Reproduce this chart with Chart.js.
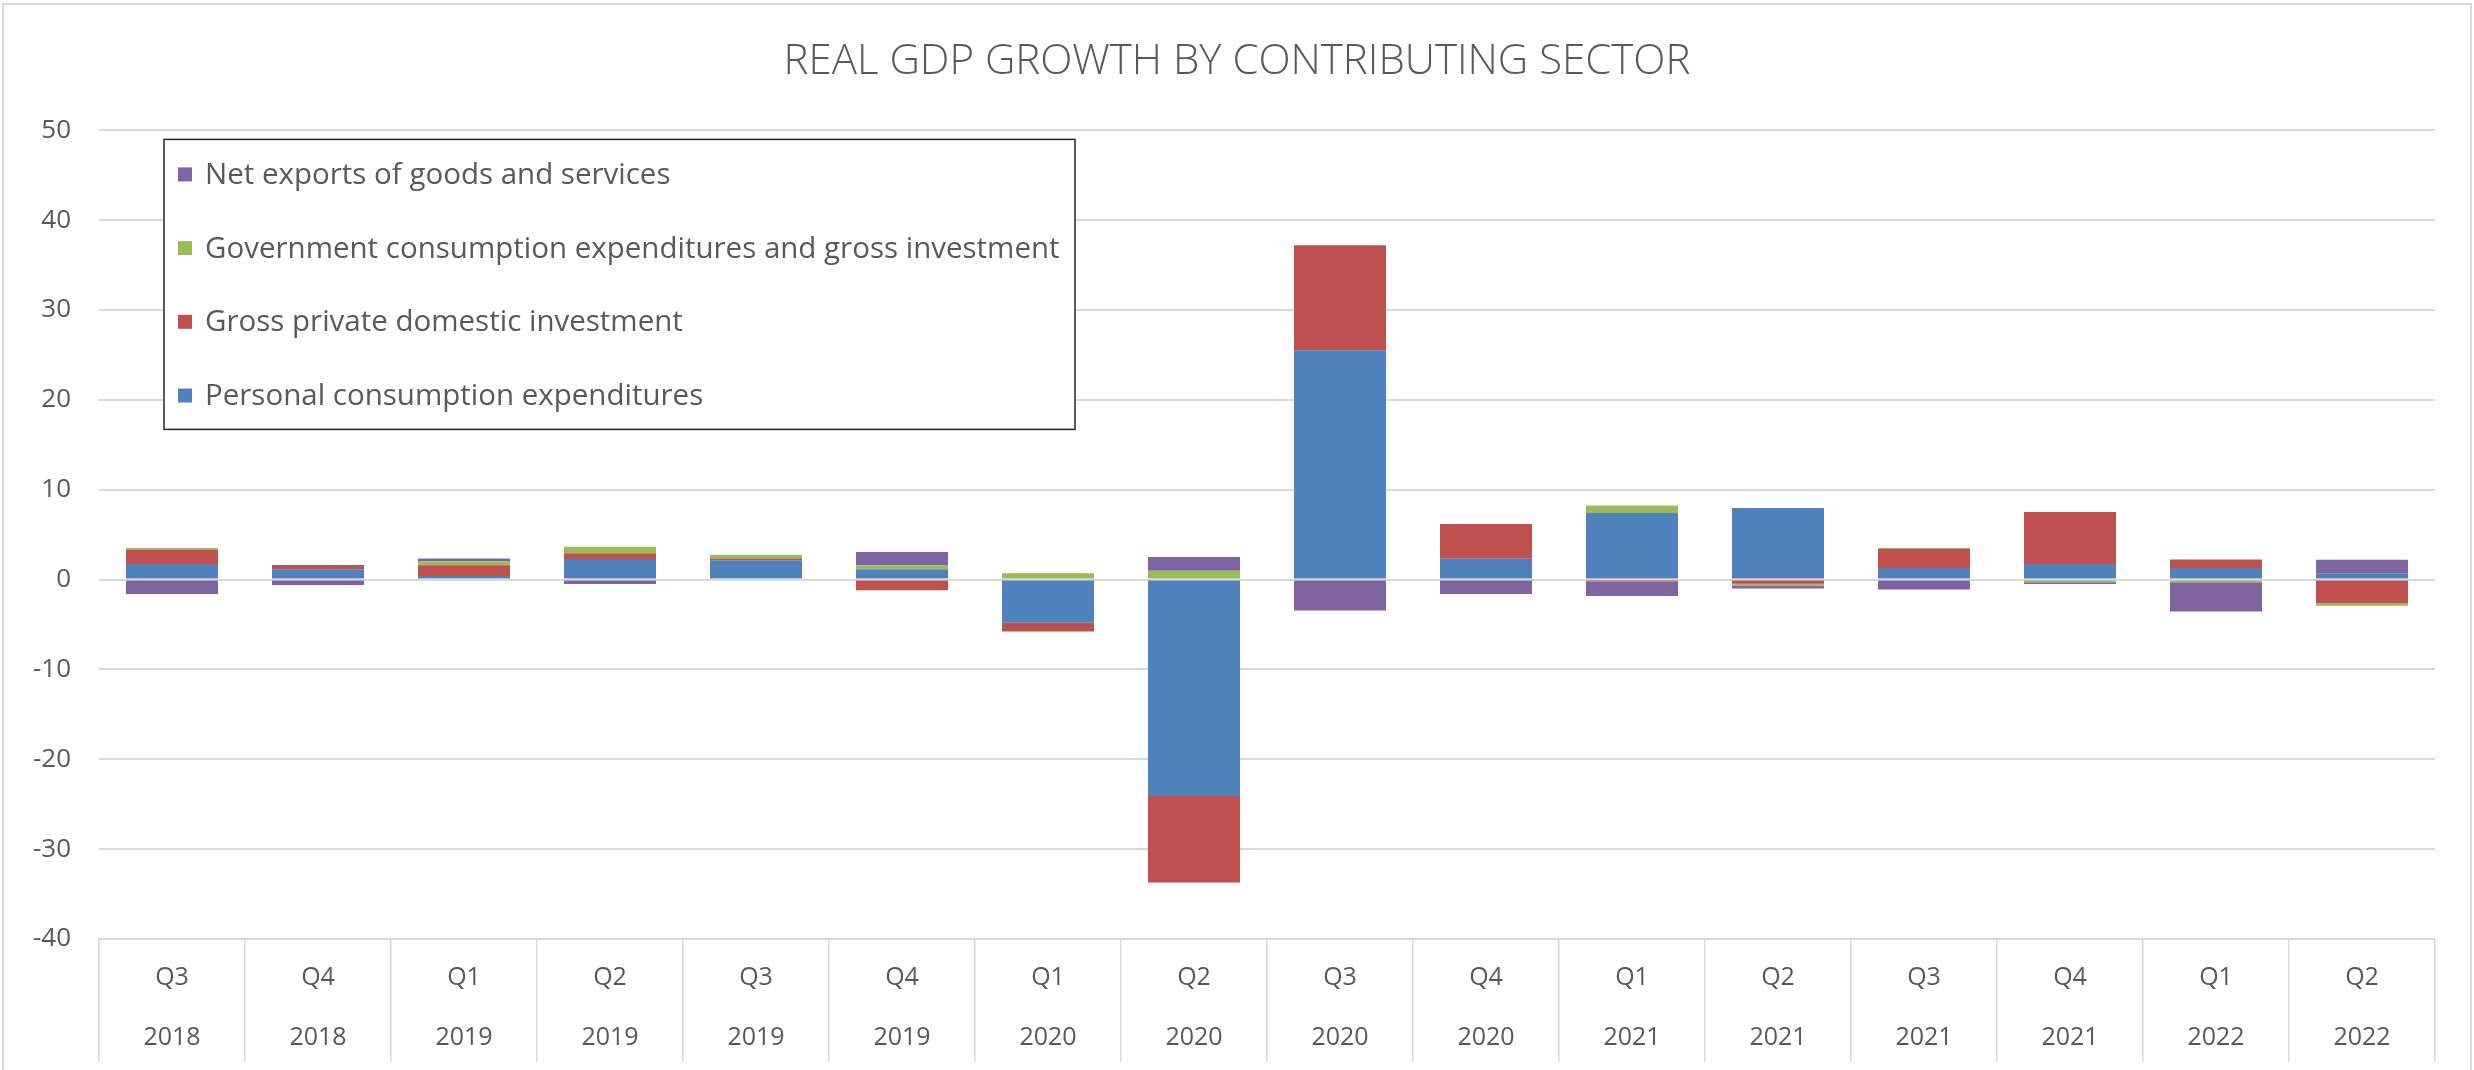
<!DOCTYPE html>
<html>
<head>
<meta charset="utf-8">
<title>Real GDP growth by contributing sector</title>
<script src="https://cdn.jsdelivr.net/npm/chart.js@4.4.1/dist/chart.umd.min.js"></script>
<style>
  html, body { margin: 0; padding: 0; background: #fff; }
  canvas { display: block; }
</style>
</head>
<body>
<canvas id="gdp" width="2474" height="1070"></canvas>
<script>
// quarters on the category axis (two-line labels: quarter / year)
const quarters = ['Q3', 'Q4', 'Q1', 'Q2', 'Q3', 'Q4', 'Q1', 'Q2', 'Q3', 'Q4', 'Q1', 'Q2', 'Q3', 'Q4', 'Q1', 'Q2'];
const years = ['2018', '2018', '2019', '2019', '2019', '2019', '2020', '2020', '2020', '2020', '2021', '2021', '2021', '2021', '2022', '2022'];

// contributions to percent change in real GDP, percentage points
const personalConsumption = [1.74, 1.15, 0.41, 2.30, 2.15, 1.15, -4.81, -24.07, 25.52, 2.33, 7.41, 7.96, 1.30, 1.74, 1.30, 0.70];
const privateInvestment = [1.59, 0.48, 1.19, 0.63, 0.19, -1.19, -0.96, -9.63, 11.70, 3.85, -0.20, -0.45, 2.11, 5.78, 0.93, -2.60];
const governmentSpending = [0.19, 0, 0.44, 0.74, 0.44, 0.44, 0.70, 1.00, 0, 0, 0.85, -0.20, 0.10, -0.30, -0.30, -0.30];
const netExports = [-1.60, -0.60, 0.30, -0.48, 0, 1.48, 0, 1.52, -3.44, -1.60, -1.63, -0.35, -1.10, -0.20, -3.26, 1.52];

const labels = quarters.map((q, i) => [q, years[i]]);
const textGrey = '#595959';
const gridGrey = '#d9d9d9';
const fontFamily = "'Open Sans', sans-serif";

// white background plus the thin frame round the whole chart
const frame = {
    id: 'frame',
    beforeDraw(chart) {
        const ctx = chart.ctx;
        ctx.save();
        ctx.fillStyle = '#ffffff';
        ctx.fillRect(0, 0, chart.width, chart.height);
        ctx.strokeStyle = gridGrey;
        ctx.lineWidth = 2;
        ctx.strokeRect(3, 4, chart.width - 6, chart.height + 10);
        ctx.restore();
    }
};

// boxed legend sitting inside the plot, series listed top-down in reverse order
const boxLegend = {
    id: 'boxLegend',
    afterDraw(chart, args, opts) {
        const ctx = chart.ctx;
        const area = chart.chartArea;
        const x0 = area.left + opts.left;
        const y0 = area.top + opts.top;
        ctx.save();
        ctx.fillStyle = '#ffffff';
        ctx.fillRect(x0, y0, opts.width, opts.height);
        ctx.strokeStyle = '#262626';
        ctx.lineWidth = 1.5;
        ctx.strokeRect(x0, y0, opts.width, opts.height);
        ctx.font = opts.fontSize + 'px ' + fontFamily;
        ctx.textBaseline = 'middle';
        const sets = chart.data.datasets.slice().reverse();
        sets.forEach((ds, i) => {
            const cy = y0 + opts.firstRow + i * opts.rowGap;
            ctx.fillStyle = ds.backgroundColor;
            ctx.fillRect(x0 + 14, cy - opts.marker / 2, opts.marker, opts.marker);
            ctx.fillStyle = textGrey;
            ctx.fillText(ds.label, x0 + 41, cy + 1);
        });
        ctx.restore();
    }
};

new Chart(document.getElementById('gdp').getContext('2d'), {
    type: 'bar',
    data: {
        labels: labels,
        datasets: [
            { label: 'Personal consumption expenditures', data: personalConsumption, backgroundColor: '#4f81bd' },
            { label: 'Gross private domestic investment', data: privateInvestment, backgroundColor: '#c0504d' },
            { label: 'Government consumption expenditures and gross investment', data: governmentSpending, backgroundColor: '#9bbb59' },
            { label: 'Net exports of goods and services', data: netExports, backgroundColor: '#8064a2' }
        ]
    },
    options: {
        responsive: false,
        devicePixelRatio: 1,
        animation: false,
        layout: { padding: 0 },
        datasets: {
            bar: { barPercentage: 0.63, categoryPercentage: 1, borderWidth: 0 }
        },
        scales: {
            x: {
                stacked: true,
                afterFit(scale) { scale.height = 131; },
                grid: {
                    offset: true,
                    drawOnChartArea: false,
                    drawTicks: true,
                    tickLength: 123,
                    color: gridGrey,
                    lineWidth: 1.5
                },
                border: { display: true, color: gridGrey, width: 2 },
                ticks: {
                    color: textGrey,
                    padding: -114,
                    maxRotation: 0,
                    autoSkip: false,
                    font: { family: fontFamily, size: 25, lineHeight: 2.4 }
                }
            },
            y: {
                stacked: true,
                min: -40,
                max: 50,
                afterFit(scale) { scale.width = 99; },
                grid: { color: gridGrey, lineWidth: 2, drawTicks: false },
                border: { display: false },
                ticks: {
                    stepSize: 10,
                    padding: 28,
                    color: textGrey,
                    font: { family: fontFamily, size: 26 }
                }
            },
            // empty right-hand margin so the title stays centred on the canvas
            gutter: {
                type: 'linear',
                position: 'right',
                display: true,
                afterFit(scale) { scale.width = 39; },
                grid: { display: false },
                border: { display: false },
                ticks: { display: false }
            }
        },
        plugins: {
            legend: { display: false },
            tooltip: { enabled: false },
            title: {
                display: true,
                text: 'REAL GDP GROWTH BY CONTRIBUTING SECTOR',
                color: textGrey,
                font: { family: fontFamily, size: 42, weight: 300, lineHeight: 1.2 },
                padding: { top: 37, bottom: 43 }
            },
            boxLegend: {
                left: 65, top: 9, width: 911, height: 290,
                firstRow: 35, rowGap: 73.7, marker: 14, fontSize: 29.5
            }
        }
    },
    plugins: [frame, boxLegend]
});
</script>
</body>
</html>
